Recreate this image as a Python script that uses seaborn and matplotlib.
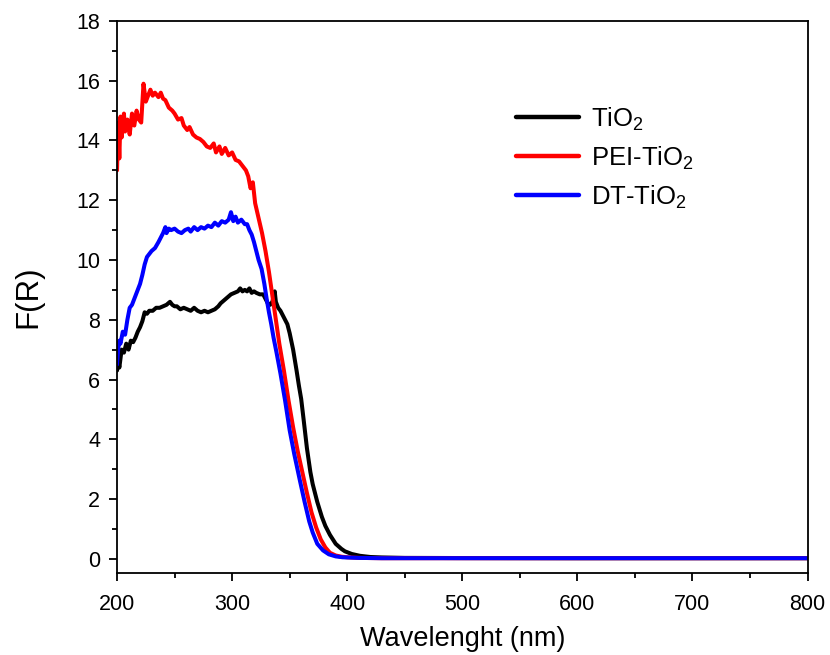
import numpy as np
import pandas as pd
import matplotlib
matplotlib.use("Agg")
import matplotlib.pyplot as plt
from matplotlib.ticker import MultipleLocator
import seaborn as sns

# ---------------- data ----------------
wl_pei = [200, 201, 202, 203, 204, 206, 207, 209, 211, 213, 215, 217, 219, 221, 223, 225, 227, 229, 231, 233,
          236, 238, 240, 242, 245, 248, 250, 253, 256, 258, 261, 263, 266, 269, 272, 275, 278, 281, 284, 286,
          289, 291, 294, 297, 300, 303, 306, 309, 312, 314, 316, 318, 320, 323, 326, 329, 332, 335, 338, 341,
          345, 349, 353, 357, 361, 365, 369, 373, 377, 381, 385, 390, 395, 400, 410, 430, 500, 600, 700, 800]
fr_pei = [13.0, 14.6, 13.4, 14.8, 14.1, 14.9, 14.3, 14.7, 14.2, 14.9, 14.5, 15.0, 14.7, 14.6, 15.9, 15.3, 15.5, 15.7, 15.5, 15.6,
          15.45, 15.6, 15.4, 15.35, 15.1, 15.0, 14.9, 14.7, 14.75, 14.5, 14.35, 14.45, 14.2, 14.1, 14.05, 13.95, 13.8, 13.75, 13.9, 13.6,
          13.8, 13.55, 13.75, 13.5, 13.6, 13.35, 13.3, 13.15, 13.0, 12.8, 12.4, 12.6, 11.9, 11.4, 10.9, 10.3, 9.6, 8.8, 8.0, 7.2,
          6.3, 5.3, 4.4, 3.6, 2.9, 2.2, 1.55, 1.05, 0.65, 0.38, 0.2, 0.11, 0.07, 0.05, 0.03, 0.02, 0.02, 0.02, 0.02, 0.02]

wl_dt = [200, 201, 202, 203, 205, 207, 209, 211, 213, 215, 217, 220, 222, 224, 226, 228, 230, 233, 236, 238,
         240, 242, 243, 245, 247, 250, 253, 256, 259, 262, 264, 267, 270, 273, 276, 279, 282, 285, 288, 291,
         294, 297, 299, 301, 303, 305, 308, 311, 313, 315, 317, 319, 321, 323, 325.6, 328, 330, 332, 334, 336,
         338.6, 342, 346, 350, 354, 359, 363, 367, 370, 374, 379, 384, 390, 396, 410, 430, 500, 600, 700, 800]
fr_dt = [6.5, 7.0, 7.3, 7.2, 7.6, 7.5, 8.0, 8.4, 8.5, 8.7, 8.9, 9.2, 9.5, 9.85, 10.1, 10.2, 10.3, 10.4, 10.6, 10.75,
         10.9, 11.1, 10.9, 11.05, 11.0, 11.05, 10.95, 10.9, 11.0, 11.05, 10.95, 11.1, 11.0, 11.1, 11.05, 11.15, 11.1, 11.25, 11.15, 11.3,
         11.25, 11.35, 11.6, 11.3, 11.45, 11.25, 11.35, 11.2, 11.2, 11.0, 10.85, 10.6, 10.3, 10.0, 9.7, 9.2, 8.7, 8.25, 7.85, 7.4,
         6.9, 6.2, 5.3, 4.3, 3.5, 2.6, 1.9, 1.25, 0.88, 0.5, 0.28, 0.15, 0.08, 0.05, 0.03, 0.02, 0.02, 0.02, 0.02, 0.02]

wl_tio2 = [200, 201, 202, 204, 206, 208, 210, 212, 214, 216, 218, 220, 222, 224, 226, 228, 231, 234, 237, 240,
           243, 246, 248, 250, 252, 255, 258, 261, 264, 267, 270, 273, 276, 279, 282, 285, 288, 290, 293, 296,
           299, 302, 305, 307, 309, 311, 313, 315, 317, 319, 321, 324, 327, 329, 331, 333, 335, 337, 338, 340,
           342, 344, 346, 348, 350, 353, 356, 358, 360, 362, 365, 368, 370, 374, 378, 381, 385, 390, 395, 398,
           404, 411, 420, 430, 450, 500, 600, 700, 800]
fr_tio2 = [6.3, 6.7, 6.4, 7.0, 6.9, 7.2, 7.0, 7.3, 7.25, 7.4, 7.6, 7.75, 7.95, 8.25, 8.2, 8.3, 8.3, 8.4, 8.4, 8.45,
           8.5, 8.6, 8.5, 8.45, 8.45, 8.35, 8.4, 8.35, 8.3, 8.4, 8.3, 8.25, 8.3, 8.25, 8.3, 8.35, 8.45, 8.55, 8.65, 8.75,
           8.85, 8.9, 8.95, 9.05, 8.95, 9.0, 8.95, 9.05, 8.9, 8.95, 8.9, 8.85, 8.85, 8.7, 8.55, 8.5, 8.6, 8.95, 8.6, 8.4,
           8.3, 8.15, 8.0, 7.85, 7.55, 7.0, 6.3, 5.8, 5.35, 4.7, 3.7, 2.9, 2.5, 1.9, 1.4, 1.1, 0.8, 0.5, 0.33, 0.25,
           0.16, 0.1, 0.06, 0.045, 0.03, 0.025, 0.02, 0.02, 0.02]

labels = ["TiO$_\\mathregular{2}$", "PEI-TiO$_\\mathregular{2}$", "DT-TiO$_\\mathregular{2}$"]
colors = ["#000000", "#ff0000", "#0000ff"]
x_ticks = [200, 300, 400, 500, 600, 700, 800]
y_ticks = [0, 2, 4, 6, 8, 10, 12, 14, 16, 18]

df = pd.concat([
    pd.DataFrame({"wl": wl_tio2, "fr": fr_tio2, "sample": labels[0]}),
    pd.DataFrame({"wl": wl_pei, "fr": fr_pei, "sample": labels[1]}),
    pd.DataFrame({"wl": wl_dt, "fr": fr_dt, "sample": labels[2]}),
], ignore_index=True)

# ---------------- plot ----------------
sns.set_theme(style="ticks")
plt.rcParams["font.family"] = ["Liberation Sans", "DejaVu Sans"]
plt.rcParams["mathtext.fontset"] = "custom"
plt.rcParams["mathtext.rm"] = "Liberation Sans"
plt.rcParams["text.color"] = "black"
plt.rcParams["axes.labelcolor"] = "black"

fig = plt.figure(figsize=(8.3, 6.55), dpi=100)
ax = fig.add_axes([0.141, 0.125, 0.832, 0.843])

sns.lineplot(data=df, x="wl", y="fr", hue="sample", palette=dict(zip(labels, colors)),
             hue_order=labels, sort=False, estimator=None, linewidth=2.9, ax=ax)

ax.set_xlim(200, 800)
ax.set_ylim(-0.48, 18)
ax.set_xticks(x_ticks)
ax.set_yticks(y_ticks)
ax.xaxis.set_minor_locator(MultipleLocator(50))
ax.yaxis.set_minor_locator(MultipleLocator(1))
ax.tick_params(which="major", direction="out", length=6, width=1.3, labelsize=15.5,
               colors="#000000", labelcolor="#000000")
ax.tick_params(axis="x", which="major", pad=9)
ax.tick_params(axis="y", which="major", pad=6)
ax.tick_params(which="minor", direction="out", length=3.5, width=1.3, colors="#000000")
for s in ax.spines.values():
    s.set_visible(True)
    s.set_linewidth(1.3)
    s.set_color("#000000")

ax.set_xlabel("Wavelenght (nm)", fontsize=19.5, labelpad=8)
ax.set_ylabel("F(R)", fontsize=22.5, labelpad=24)

leg = ax.legend(frameon=False, fontsize=18.5, handlelength=2.45, handletextpad=0.45,
                labelspacing=0.45, loc="center left", borderaxespad=0, borderpad=0.3,
                bbox_to_anchor=(0.567, 0.752))
for line in leg.get_lines():
    line.set_linewidth(3.2)

fig.savefig("out.png", dpi=100)
